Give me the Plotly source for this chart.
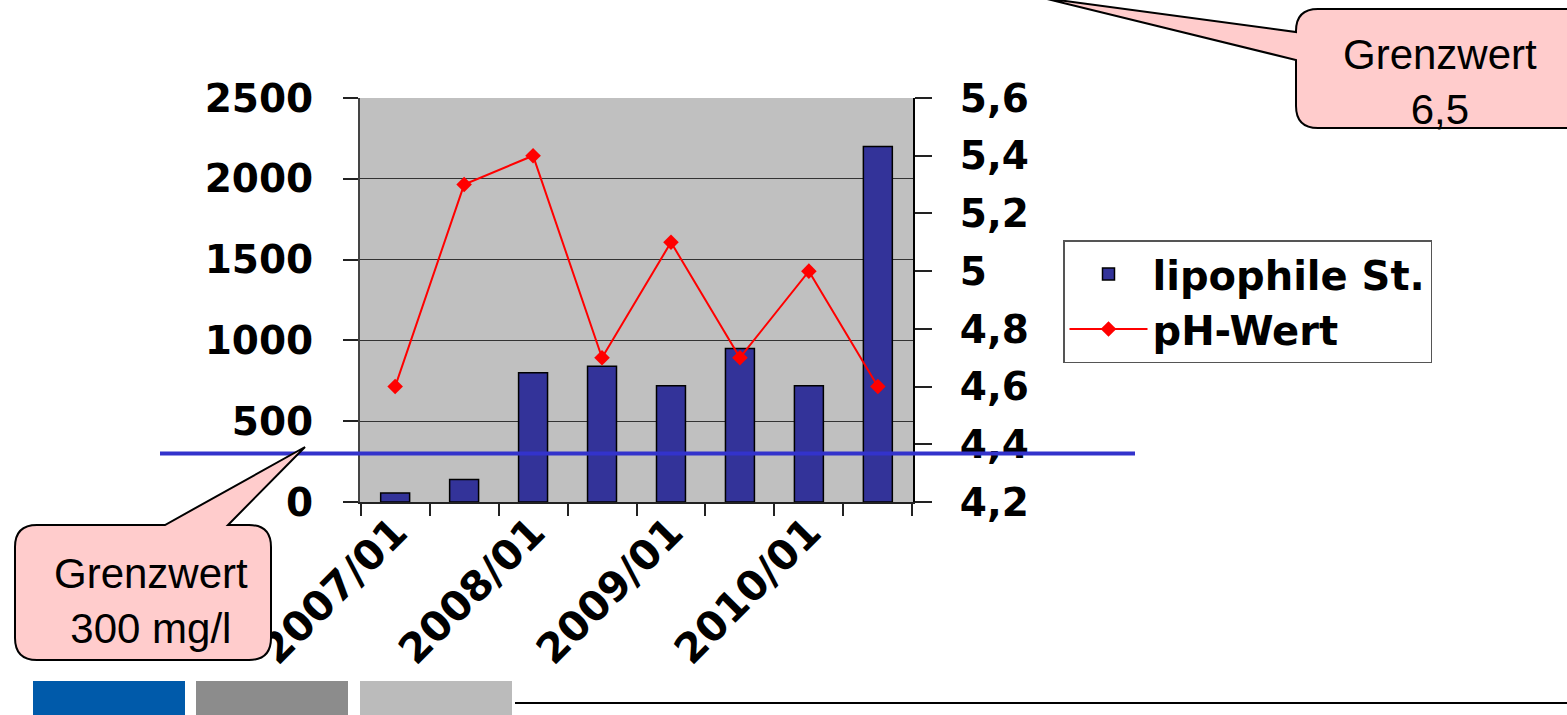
import plotly.graph_objects as go

# ---- data ----
categories = ["2007/01", "2007/07", "2008/01", "2008/07", "2009/01", "2009/07", "2010/01", "2010/07"]
tick_labels = ["2007/01", "", "2008/01", "", "2009/01", "", "2010/01", ""]
lipophile = [55, 140, 800, 840, 720, 950, 720, 2200]
ph_values = [4.6, 5.3, 5.4, 4.7, 5.1, 4.7, 5.0, 4.6]
left_ticks = [0, 500, 1000, 1500, 2000, 2500]
right_ticks = [4.2, 4.4, 4.6, 4.8, 5.0, 5.2, 5.4, 5.6]
right_tick_text = ["4,2", "4,4", "4,6", "4,8", "5", "5,2", "5,4", "5,6"]
limit_lipophile = 300

W, H = 1567, 715
L, R, T, B = 360, 913, 98, 502


def px(x):
    return (x - L) / (R - L)


def py(y):
    return (B - y) / (B - T)


def path(points_cmds):
    out = []
    for c in points_cmds:
        if c[0] in "ML":
            out.append(f"{c[0]}{px(c[1]):.5f},{py(c[2]):.5f}")
        elif c[0] == "Q":
            out.append(f"Q{px(c[1]):.5f},{py(c[2]):.5f} {px(c[3]):.5f},{py(c[4]):.5f}")
        elif c[0] == "Z":
            out.append("Z")
    return " ".join(out)


bold = dict(family="DejaVu Sans", size=39, color="black", weight="bold")
xbold = dict(family="DejaVu Sans", size=41, color="black", weight="bold")

fig = go.Figure()
fig.add_trace(go.Bar(
    x=categories, y=lipophile, name="lipophile St.",
    marker=dict(color="#333399", line=dict(color="black", width=1.5)),
    yaxis="y",
))
fig.add_trace(go.Scatter(
    x=categories, y=ph_values, name="pH-Wert", mode="lines+markers",
    line=dict(color="#ff0000", width=2),
    marker=dict(symbol="diamond", size=12, color="#ff0000"),
    yaxis="y2",
))

shapes = []
# limit line at 300 mg/l
shapes.append(dict(type="line", xref="paper", yref="y", x0=px(160), x1=px(1135),
                   y0=limit_lipophile, y1=limit_lipophile,
                   line=dict(color="#3333cc", width=4), layer="above"))

# callout bottom-left
r = 22
x0, y0, x1, y1 = 15, 525, 271, 660
c1 = [("M", x0 + r, y0), ("L", 165, y0), ("L", 305, 447), ("L", 228, y0), ("L", x1 - r, y0),
      ("Q", x1, y0, x1, y0 + r), ("L", x1, y1 - r), ("Q", x1, y1, x1 - r, y1),
      ("L", x0 + r, y1), ("Q", x0, y1, x0, y1 - r), ("L", x0, y0 + r), ("Q", x0, y0, x0 + r, y0), ("Z",)]
shapes.append(dict(type="path", xref="paper", yref="paper", path=path(c1),
                   fillcolor="#ffcccc", line=dict(color="black", width=2), layer="above"))

# callout top-right
x0, y0, x1, y1 = 1296, 9, 1620, 128
c2 = [("M", x0 + r, y0), ("L", x1, y0), ("L", x1, y1), ("L", x0 + r, y1),
      ("Q", x0, y1, x0, y1 - r), ("L", x0, 60), ("L", 1043, -2), ("L", x0, 32),
      ("L", x0, y0 + r), ("Q", x0, y0, x0 + r, y0), ("Z",)]
shapes.append(dict(type="path", xref="paper", yref="paper", path=path(c2),
                   fillcolor="#ffcccc", line=dict(color="black", width=2), layer="above"))

# footer decoration
for (a, b, col) in [(33, 185, "#005aaa"), (196, 348, "#8c8c8c"), (360, 512, "#bbbbbb")]:
    shapes.append(dict(type="rect", xref="paper", yref="paper", x0=px(a), x1=px(b),
                       y0=py(681), y1=py(718), fillcolor=col, line=dict(width=0)))
shapes.append(dict(type="line", xref="paper", yref="paper", x0=px(515), x1=px(1567),
                   y0=py(703), y1=py(703), line=dict(color="black", width=2)))

annotations = [
    dict(xref="paper", yref="paper", x=px(151), y=py(601), text="Grenzwert<br>300 mg/l",
         showarrow=False, xanchor="center", yanchor="middle",
         font=dict(family="Liberation Sans", size=42, color="black")),
    dict(xref="paper", yref="paper", x=px(1440), y=py(82), text="Grenzwert<br>6,5",
         showarrow=False, xanchor="center", yanchor="middle",
         font=dict(family="Liberation Sans", size=42, color="black")),
]

fig.update_layout(
    width=W, height=H,
    margin=dict(l=L, r=W - R, t=T, b=H - B, pad=0),
    paper_bgcolor="white", plot_bgcolor="#c0c0c0",
    separators=",.",
    bargap=0.58,
    showlegend=True,
    legend=dict(x=px(1063), y=py(240), xanchor="left", yanchor="top",
                bgcolor="white", bordercolor="#555555", borderwidth=1.5,
                font=dict(family="DejaVu Sans", size=40, color="black", weight="bold"),
                traceorder="normal", itemwidth=78),
    xaxis=dict(type="category", categoryorder="array", categoryarray=categories,
               tickmode="array", tickvals=categories, ticktext=tick_labels,
               tickson="boundaries", ticks="outside", ticklen=12, tickwidth=1.5,
               tickcolor="#222222", tickangle=-45, tickfont=xbold, ticklabelstandoff=-12,
               showline=True, linecolor="#222222", linewidth=1.5, showgrid=False),
    yaxis=dict(range=[0, 2500], tickmode="array", tickvals=left_ticks,
               ticks="outside", ticklen=15, tickwidth=1.5, tickcolor="#222222",
               tickfont=bold, ticklabelstandoff=22,
               showgrid=True, gridcolor="#333333", gridwidth=1.2,
               showline=True, linecolor="#444444", linewidth=2, zeroline=False),
    yaxis2=dict(range=[4.2, 5.6], overlaying="y", side="right",
                tickmode="array", tickvals=right_ticks, ticktext=right_tick_text,
                ticks="outside", ticklen=17, tickwidth=1.5, tickcolor="#222222",
                tickfont=bold, ticklabelstandoff=20,
                showgrid=False, showline=True, linecolor="black", linewidth=2, zeroline=False),
    shapes=shapes,
    annotations=annotations,
)

fig.write_html("out.html", config={"displayModeBar": False},
               post_script="document.body.style.margin='0';document.body.style.overflow='hidden';")
